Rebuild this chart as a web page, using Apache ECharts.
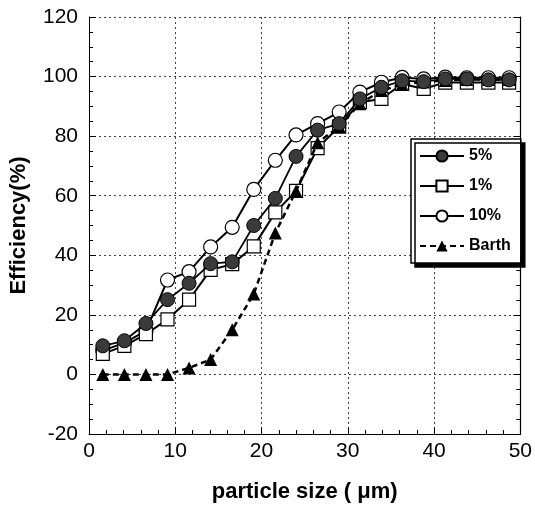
<!DOCTYPE html>
<html><head><meta charset="utf-8">
<script src="https://cdn.jsdelivr.net/npm/echarts@6/dist/echarts.min.js"></script>
<style>html,body{margin:0;padding:0;background:#fff}#c{width:535px;height:508px}</style>
</head><body><div id="c"></div>
<script>
// particle size (μm)
const sizes = [1.6, 4.1, 6.6, 9.1, 11.6, 14.1, 16.6, 19.1, 21.6, 24.0, 26.5, 29.0, 31.4, 33.9, 36.3, 38.8, 41.3, 43.8, 46.3, 48.7];
// efficiency (%)
const eff5  = [9.6, 11.3, 17.1, 25.1, 30.6, 37.2, 37.8, 50.0, 59.1, 73.2, 82.0, 84.2, 92.5, 96.4, 98.6, 98.3, 99.2, 99.2, 98.9, 98.9];
const eff1  = [6.9, 9.6, 13.5, 18.5, 25.1, 35.1, 37.0, 43.0, 54.4, 61.6, 76.0, 83.2, 91.4, 92.5, 97.5, 95.9, 98.0, 98.0, 98.0, 98.0];
const eff10 = [8.0, 10.6, 14.6, 31.7, 34.5, 42.8, 49.4, 62.1, 71.9, 80.4, 84.2, 88.1, 94.8, 98.1, 99.7, 99.2, 99.8, 99.6, 99.6, 99.6];
const barth = [0, 0, 0, 0, 2.2, 5.0, 15.0, 27.0, 47.5, 61.6, 77.8, 83.2, 90.9, 95.3, 97.3, 98.2, 98.7, 99.0, 99.0, 99.0];
const seriesNames = ['5%', '1%', '10%', 'Barth'];
const xAxisName = 'particle size ( \u03bcm)';
const yAxisName = 'Efficiency(%)';

const pair = arr => sizes.map((x, i) => [x, arr[i]]);
const FONT = '"Liberation Sans", Arial, Helvetica, sans-serif';
const grid = {type: [2, 3], color: '#444', width: 1};

const chart = echarts.init(document.getElementById('c'), null, {renderer: 'canvas'});
chart.setOption({
  animation: false,
  backgroundColor: '#fff',
  grid: {left: 89, right: 13, top: 17, bottom: 69, containLabel: false},
  legend: {
    data: seriesNames,
    orient: 'vertical',
    left: 411, top: 139,
    padding: [9, 10, 9, 8],
    itemGap: 14,
    itemWidth: 44,
    itemHeight: 14,
    backgroundColor: '#fff',
    borderColor: '#000',
    borderWidth: 1.5,
    shadowColor: '#000',
    shadowBlur: 0,
    shadowOffsetX: 4,
    shadowOffsetY: 4,
    textStyle: {fontFamily: FONT, fontWeight: 'bold', fontSize: 16, color: '#000'}
  },
  xAxis: {
    type: 'value', min: 0, max: 50, interval: 10,
    name: xAxisName, nameLocation: 'middle', nameGap: 47,
    nameTextStyle: {fontFamily: FONT, fontWeight: 'bold', fontSize: 22, color: '#000'},
    axisLine: {show: true, onZero: false, lineStyle: {color: '#000', width: 1}},
    axisTick: {show: true, inside: true, length: 7, lineStyle: {color: '#000'}},
    minorTick: {show: true, splitNumber: 5, length: 4, lineStyle: {color: '#000'}},
    axisLabel: {fontFamily: FONT, fontSize: 21, color: '#000', margin: 7},
    splitLine: {show: true, lineStyle: grid}
  },
  yAxis: [{
    type: 'value', min: -20, max: 120, interval: 20,
    name: yAxisName, nameLocation: 'middle', nameGap: 59,
    nameTextStyle: {fontFamily: FONT, fontWeight: 'bold', fontSize: 22, color: '#000'},
    axisLine: {show: true, onZero: false, lineStyle: {color: '#000', width: 1}},
    axisTick: {show: true, inside: true, length: 7, lineStyle: {color: '#000'}},
    minorTick: {show: true, splitNumber: 4, length: 4, lineStyle: {color: '#000'}},
    axisLabel: {fontFamily: FONT, fontSize: 21, color: '#000', margin: 11},
    splitLine: {show: true, lineStyle: grid}
  }, {
    type: 'value', min: -20, max: 120, interval: 20, position: 'right',
    axisLine: {show: true, onZero: false, lineStyle: {color: '#000', width: 1.2}},
    axisTick: {show: true, inside: true, length: 7, lineStyle: {color: '#000'}},
    minorTick: {show: true, splitNumber: 4, length: 4, lineStyle: {color: '#000'}},
    axisLabel: {show: false},
    splitLine: {show: false}
  }],
  series: [
    {
      name: '10%', type: 'line', data: pair(eff10),
      symbol: 'circle', symbolSize: 14,
      itemStyle: {color: '#fff', borderColor: '#000', borderWidth: 1.2},
      lineStyle: {color: '#000', width: 2}, z: 2
    },
    {
      name: '1%', type: 'line', data: pair(eff1),
      symbol: 'rect', symbolSize: 13,
      itemStyle: {color: '#fff', borderColor: '#000', borderWidth: 1.2},
      lineStyle: {color: '#000', width: 2}, z: 3
    },
    {
      name: 'Barth', type: 'line', data: pair(barth),
      symbol: 'triangle', symbolSize: 13,
      itemStyle: {color: '#000', borderColor: '#000', borderWidth: 0},
      lineStyle: {color: '#000', width: 2.5, type: [6, 4]}, z: 4
    },
    {
      name: '5%', type: 'line', data: pair(eff5),
      symbol: 'circle', symbolSize: 14,
      itemStyle: {color: '#3a3a3a', borderColor: '#000', borderWidth: 1},
      lineStyle: {color: '#000', width: 1.8}, z: 5
    }
  ]
});
</script>
</body></html>
